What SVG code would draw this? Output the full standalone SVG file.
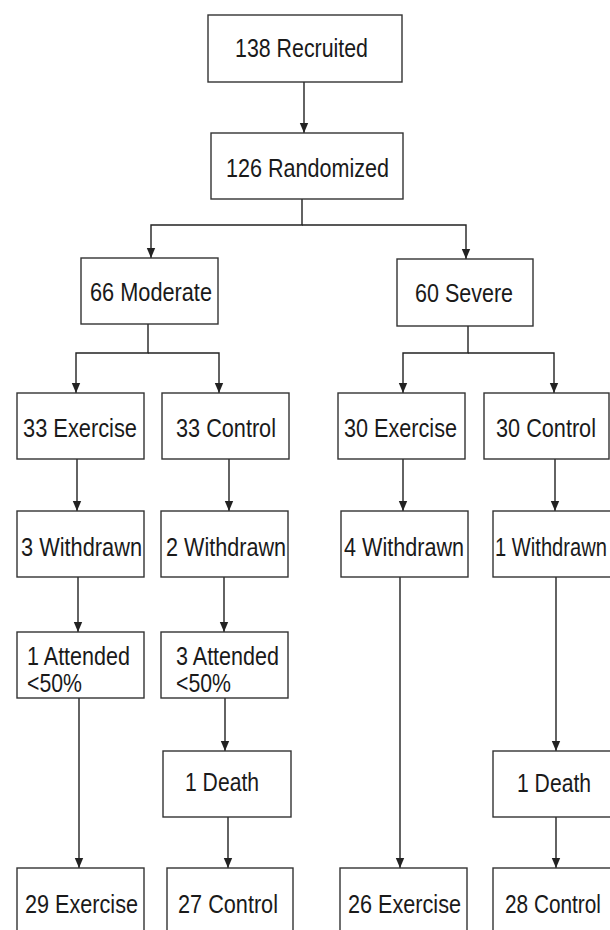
<svg xmlns="http://www.w3.org/2000/svg" width="610" height="930" viewBox="0 0 610 930">
<style>
.box{fill:#fff;stroke:#333;stroke-width:1.4}
.t{font-family:"Liberation Sans",Arial,sans-serif;font-size:25px;fill:#1a1a1a}
.c{fill:none;stroke:#222;stroke-width:1.4}
</style>
<defs>
<marker id="ah" markerUnits="userSpaceOnUse" markerWidth="10" markerHeight="10" viewBox="0 0 10 10" refX="10" refY="5" orient="auto">
<path d="M0,0.8 L10,5 L0,9.2 z" fill="#222"/>
</marker>
</defs>
<rect width="610" height="930" fill="#fff"/>
<g id="connectors">
<path class="c" d="M304,82 V133" marker-end="url(#ah)"/>
<path class="c" d="M302,199 V225 H151 V258" marker-end="url(#ah)"/>
<path class="c" d="M302,225 H466 V259" marker-end="url(#ah)"/>
<path class="c" d="M148,324 V353 H76 V393" marker-end="url(#ah)"/>
<path class="c" d="M148,353 H219 V393" marker-end="url(#ah)"/>
<path class="c" d="M468,326 V353 H403 V393" marker-end="url(#ah)"/>
<path class="c" d="M468,353 H554 V393" marker-end="url(#ah)"/>
<path class="c" d="M77,459 V511" marker-end="url(#ah)"/>
<path class="c" d="M229,459 V511" marker-end="url(#ah)"/>
<path class="c" d="M403,459 V511" marker-end="url(#ah)"/>
<path class="c" d="M555,459 V511" marker-end="url(#ah)"/>
<path class="c" d="M78,577 V632" marker-end="url(#ah)"/>
<path class="c" d="M224,577 V632" marker-end="url(#ah)"/>
<path class="c" d="M225,698 V751" marker-end="url(#ah)"/>
<path class="c" d="M556,577 V751" marker-end="url(#ah)"/>
<path class="c" d="M79,698 V868" marker-end="url(#ah)"/>
<path class="c" d="M228,817 V868" marker-end="url(#ah)"/>
<path class="c" d="M400,577 V868" marker-end="url(#ah)"/>
<path class="c" d="M556,817 V868" marker-end="url(#ah)"/>
</g>
<g id="recruited"><rect class="box" x="208" y="15" width="194" height="67"/><text class="t" x="235" y="57" textLength="133" lengthAdjust="spacingAndGlyphs">138 Recruited</text></g>
<g id="randomized"><rect class="box" x="211" y="133" width="192" height="66"/><text class="t" x="226" y="177" textLength="163" lengthAdjust="spacingAndGlyphs">126 Randomized</text></g>
<g id="moderate"><rect class="box" x="81" y="258" width="137" height="66"/><text class="t" x="90" y="301" textLength="122" lengthAdjust="spacingAndGlyphs">66 Moderate</text></g>
<g id="severe"><rect class="box" x="397" y="259" width="136" height="67"/><text class="t" x="415" y="302" textLength="98" lengthAdjust="spacingAndGlyphs">60 Severe</text></g>
<g id="mod-exercise"><rect class="box" x="17" y="393" width="127" height="66"/><text class="t" x="23" y="437" textLength="114" lengthAdjust="spacingAndGlyphs">33 Exercise</text></g>
<g id="mod-control"><rect class="box" x="162" y="393" width="127" height="66"/><text class="t" x="176" y="437" textLength="100" lengthAdjust="spacingAndGlyphs">33 Control</text></g>
<g id="sev-exercise"><rect class="box" x="338" y="393" width="127" height="66"/><text class="t" x="344" y="437" textLength="113" lengthAdjust="spacingAndGlyphs">30 Exercise</text></g>
<g id="sev-control"><rect class="box" x="484" y="393" width="125" height="66"/><text class="t" x="496" y="437" textLength="100" lengthAdjust="spacingAndGlyphs">30 Control</text></g>
<g id="mod-ex-withdrawn"><rect class="box" x="17" y="511" width="127" height="66"/><text class="t" x="21" y="556" textLength="121" lengthAdjust="spacingAndGlyphs">3 Withdrawn</text></g>
<g id="mod-con-withdrawn"><rect class="box" x="161" y="511" width="127" height="66"/><text class="t" x="166" y="556" textLength="120" lengthAdjust="spacingAndGlyphs">2 Withdrawn</text></g>
<g id="sev-ex-withdrawn"><rect class="box" x="341" y="511" width="127" height="66"/><text class="t" x="344" y="556" textLength="120" lengthAdjust="spacingAndGlyphs">4 Withdrawn</text></g>
<g id="sev-con-withdrawn"><rect class="box" x="493" y="511" width="127" height="66"/><text class="t" x="495" y="556" textLength="112" lengthAdjust="spacingAndGlyphs">1 Withdrawn</text></g>
<g id="mod-ex-attended"><rect class="box" x="17" y="632" width="127" height="66"/><text class="t" x="27" y="665" textLength="103" lengthAdjust="spacingAndGlyphs">1 Attended</text><text class="t" x="27" y="692" textLength="55" lengthAdjust="spacingAndGlyphs">&lt;50%</text></g>
<g id="mod-con-attended"><rect class="box" x="161" y="632" width="127" height="66"/><text class="t" x="176" y="665" textLength="103" lengthAdjust="spacingAndGlyphs">3 Attended</text><text class="t" x="176" y="692" textLength="55" lengthAdjust="spacingAndGlyphs">&lt;50%</text></g>
<g id="mod-con-death"><rect class="box" x="163" y="751" width="128" height="66"/><text class="t" x="185" y="791" textLength="74" lengthAdjust="spacingAndGlyphs">1 Death</text></g>
<g id="sev-con-death"><rect class="box" x="493" y="751" width="127" height="66"/><text class="t" x="517" y="792" textLength="74" lengthAdjust="spacingAndGlyphs">1 Death</text></g>
<g id="mod-ex-final"><rect class="box" x="17" y="868" width="127" height="80"/><text class="t" x="25" y="913" textLength="113" lengthAdjust="spacingAndGlyphs">29 Exercise</text></g>
<g id="mod-con-final"><rect class="box" x="167" y="868" width="126" height="80"/><text class="t" x="178" y="913" textLength="100" lengthAdjust="spacingAndGlyphs">27 Control</text></g>
<g id="sev-ex-final"><rect class="box" x="340" y="868" width="127" height="80"/><text class="t" x="348" y="913" textLength="113" lengthAdjust="spacingAndGlyphs">26 Exercise</text></g>
<g id="sev-con-final"><rect class="box" x="493" y="868" width="127" height="80"/><text class="t" x="505" y="913" textLength="96" lengthAdjust="spacingAndGlyphs">28 Control</text></g>
</svg>
